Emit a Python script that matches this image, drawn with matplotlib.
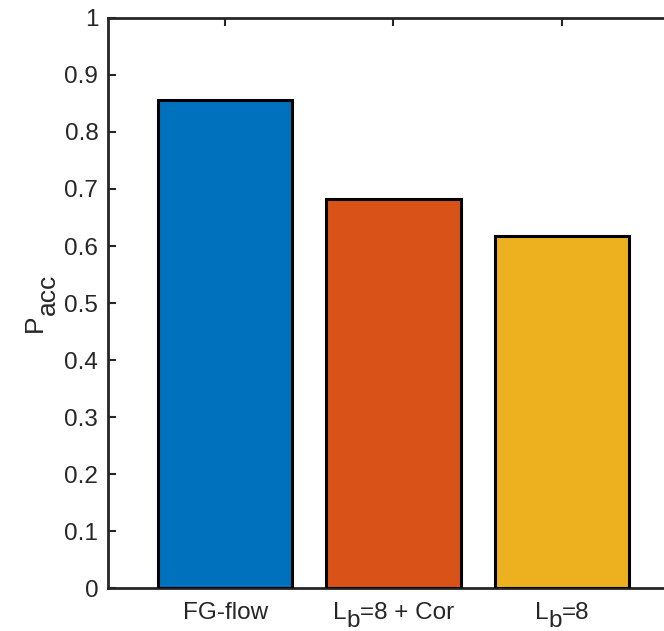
import matplotlib
matplotlib.use("Agg")
import matplotlib.pyplot as plt
from matplotlib.transforms import offset_copy

plt.rcParams["font.family"] = ["Liberation Sans", "DejaVu Sans"]

# tick labels split as (text, subscript, text) so the subscript can sit low
methods = [("FG-flow", "", ""), ("L", "b", "=8 + Cor"), ("L", "b", "=8")]
p_acc = [0.856, 0.682, 0.6175]
colors = ["#0072BD", "#D95319", "#EDB120"]
yticks = [0, 0.1, 0.2, 0.3, 0.4, 0.5, 0.6, 0.7, 0.8, 0.9, 1]
ytick_labels = ["0", "0.1", "0.2", "0.3", "0.4", "0.5", "0.6", "0.7", "0.8", "0.9", "1"]
ylabel = ("P", "acc")

TXT = "#262626"
TICK_FS = 17.5
LABEL_FS = 19

fig = plt.figure(figsize=(6.64, 6.31), dpi=100, facecolor="white")
# axes run a little past the right edge, like the cropped original export
ax = fig.add_axes([0.1627, 0.0681, 0.861, 0.9034])

x = [1, 2, 3]
ax.bar(x, p_acc, width=0.8, color=colors, edgecolor="black", linewidth=2.2, zorder=3)

ax.set_xlim(0.305, 3.7)
ax.set_ylim(0, 1)
ax.set_xticks(x)
ax.set_xticklabels([""] * len(x))
ax.set_yticks(yticks)
ax.set_yticklabels(ytick_labels)

ax.tick_params(axis="both", direction="in", length=6, width=1.5, color=TXT,
               labelsize=TICK_FS, labelcolor=TXT, top=True, right=True)
ax.tick_params(axis="y", pad=7)
for side in ax.spines.values():
    side.set_linewidth(2.0)
    side.set_color(TXT)

renderer = fig.canvas.get_renderer()


def text_width(s, fs):
    if not s:
        return 0.0
    t = fig.text(0, 0, s, fontsize=fs)
    w = t.get_window_extent(renderer).width
    t.remove()
    return w


def sub_label(base, xpos, pieces, fs, base_drop, sub_drop, vertical=False):
    """Write text with a full-size, lowered subscript (MATLAB tex style)."""
    widths = [text_width(p, fs) for p in pieces]
    pos = -sum(widths) / 2
    for i, (p, w) in enumerate(zip(pieces, widths)):
        if p:
            drop = sub_drop if i == 1 else base_drop
            if vertical:
                tr = offset_copy(base, fig=fig, x=drop, y=pos, units="dots")
                ax.text(xpos, 0.5, p, transform=tr, fontsize=fs, color=TXT,
                        rotation=90, rotation_mode="anchor",
                        ha="left", va="baseline")
            else:
                tr = offset_copy(base, fig=fig, x=pos, y=-drop, units="dots")
                ax.text(xpos, 0, p, transform=tr, fontsize=fs, color=TXT,
                        ha="left", va="baseline")
        pos += w


for xi, parts in zip(x, methods):
    sub_label(ax.get_xaxis_transform(), xi, parts, TICK_FS, 31, 39)

sub_label(ax.transAxes, 0, (ylabel[0], ylabel[1], ""), LABEL_FS, -66, -53, vertical=True)

fig.savefig("out.png", dpi=100, facecolor="white")
